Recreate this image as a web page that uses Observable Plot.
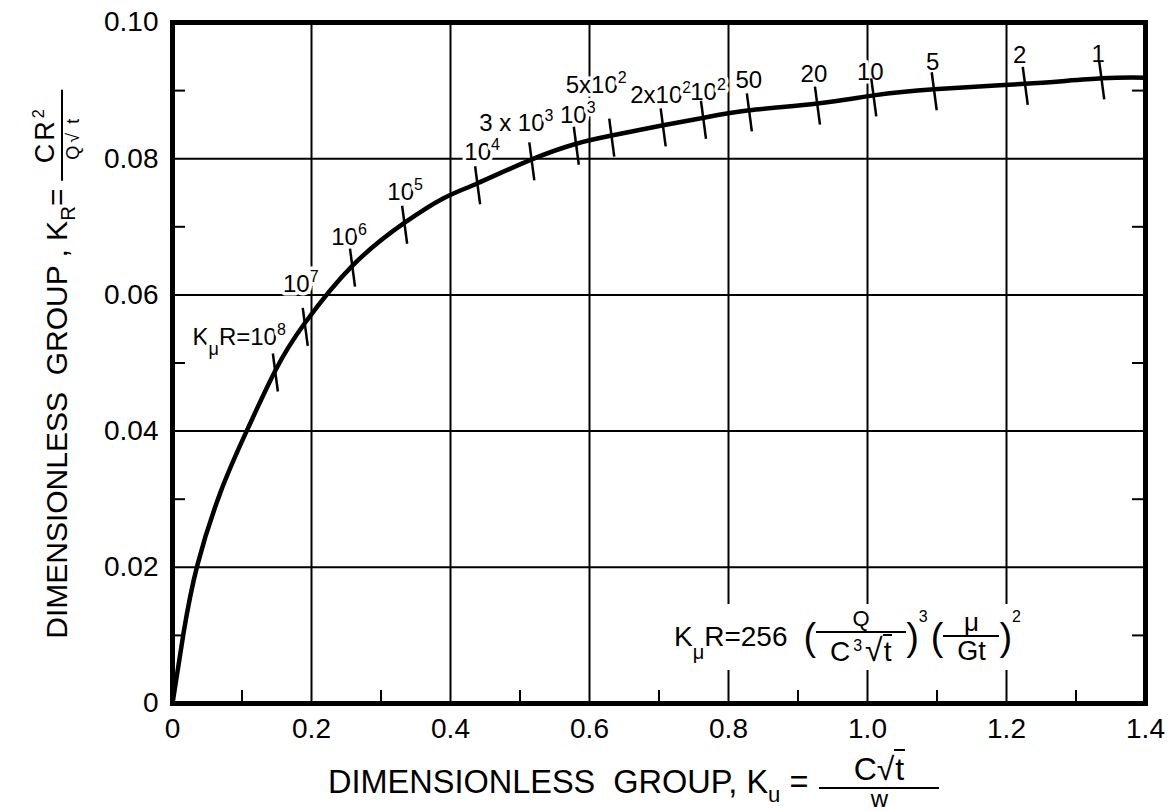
<!DOCTYPE html>
<html><head><meta charset="utf-8">
<script src="https://cdn.jsdelivr.net/npm/d3@7"></script>
<script src="https://cdn.jsdelivr.net/npm/@observablehq/plot@0.6"></script>
<style>
body{margin:0;background:#fff}
#wrap{position:relative;width:1171px;height:811px;font-family:'Liberation Sans',Arial,sans-serif;color:#000;overflow:hidden}
#wrap svg{position:absolute;left:0;top:0}
.ov{position:absolute;white-space:pre;line-height:1;display:flex;align-items:center}
.sub{font-size:0.68em;position:relative;top:0.4em}
.sup{font-size:0.6em;position:relative;top:-0.6em}
.frac{display:inline-flex;flex-direction:column;align-items:center;line-height:1}
.frac>.num{border-bottom:2.5px solid #000;text-align:center;align-self:stretch}
.frac>.den{text-align:center}
.ovl{border-top:2px solid #000;padding:0 1px}
.par{font-size:38px;line-height:1}
.psup{font-size:16px;position:relative;top:-20px}
</style></head><body><div id="wrap"></div>
<script>
// ---- data ----
const xTicks = [0, 0.2, 0.4, 0.6, 0.8, 1.0, 1.2, 1.4];
const yTicks = [0, 0.02, 0.04, 0.06, 0.08, 0.10];
const xGrid = [0.2, 0.4, 0.6, 0.8, 1.0, 1.2];
const yGrid = [0.02, 0.04, 0.06, 0.08];
const xMinor = [0.1, 0.3, 0.5, 0.7, 0.9, 1.1, 1.3];
const yMinor = [0.01, 0.03, 0.05, 0.07, 0.09];

// curve K_R vs K_u
const curveKu = [0, 0.0158, 0.036, 0.069, 0.104, 0.148, 0.190, 0.259, 0.334, 0.390, 0.439, 0.517, 0.581, 0.632, 0.706, 0.764, 0.830, 0.928, 1.009, 1.096, 1.227, 1.337, 1.400];
const curveKR = [0, 0.0103, 0.0204, 0.0310, 0.0394, 0.0489, 0.0558, 0.0643, 0.0706, 0.0742, 0.0764, 0.0799, 0.0822, 0.0834, 0.0849, 0.0860, 0.0871, 0.0881, 0.0893, 0.0902, 0.0910, 0.0918, 0.0919];

// K_muR marks along the curve
const markKu = [0.148, 0.191, 0.259, 0.334, 0.439, 0.517, 0.581, 0.632, 0.706, 0.764, 0.830, 0.928, 1.009, 1.096, 1.227, 1.337];
const markKR = [0.0489, 0.0556, 0.0643, 0.0706, 0.0764, 0.0799, 0.0822, 0.0834, 0.0849, 0.0860, 0.0871, 0.0881, 0.0893, 0.0902, 0.0910, 0.0918];
const markLabel = ["K_{μ}R=10^{8}", "10^{7}", "10^{6}", "10^{5}", "10^{4}", "3 x 10^{3}", "10^{3}", "5x10^{2}", "2x10^{2}", "10^{2}", "50", "20", "10", "5", "2", "1"];

// ---- layout ----
const W = 1171, H = 811, ML = 172, MR = 26, MT = 22, MB = 108;
const FONT = "'Liberation Sans', Arial, sans-serif";
const pxX = 1.4 / (W - ML - MR), pxY = 0.1 / (H - MT - MB);
// label placement relative to the mark, in pixels [dx, dy of baseline]
const labelShift = [[11,-25],[-4,-32],[-3,-20],[1,-22],[5,-23],[-15,-28],[2,-20],[-15,-42],[-2,-22],[5,-17],[0,-22],[-3,-21],[-3,-15],[-1,-19],[-5,-20],[-3,-16]];

const curveData = curveKu.map((u, i) => ({u, r: curveKR[i]}));
const markData = markKu.map((u, i) => ({u, r: markKR[i], label: markLabel[i]}));

function curveLabels(index, scales) {
  const g = d3.create("svg:g")
    .attr("font-family", FONT).attr("font-size", 24).attr("fill", "#000")
    .attr("stroke", "#fff").attr("stroke-width", 7).attr("stroke-linejoin", "round")
    .attr("paint-order", "stroke");
  markData.forEach((d, i) => {
    const [dx, dy] = labelShift[i];
    const t = g.append("text")
      .attr("x", scales.x(d.u) + dx)
      .attr("y", scales.y(d.r) + dy)
      .attr("text-anchor", i === 0 ? "end" : "middle");
    const re = /([_^])\{([^}]*)\}|([^_^]+)/g;
    let m, shift = 0;
    while ((m = re.exec(d.label))) {
      if (m[3]) {
        t.append("tspan").attr("dy", -shift).text(m[3]);
        shift = 0;
      } else if (m[1] === "^") {
        t.append("tspan").attr("dy", -10 - shift).attr("font-size", 16).text(m[2]);
        shift = -10;
      } else {
        t.append("tspan").attr("dy", 10 - shift).attr("font-size", 18).text(m[2]);
        shift = 10;
      }
    }
  });
  return g.node();
}

const fmtX = d => d === 0 ? "0" : d.toFixed(1);
const fmtY = d => d === 0 ? "0" : d.toFixed(2);

const chart = Plot.plot({
  width: W, height: H,
  marginLeft: ML, marginRight: MR, marginTop: MT, marginBottom: MB,
  x: {domain: [0, 1.4]},
  y: {domain: [0, 0.1]},
  style: {fontFamily: FONT, fontSize: "28px", color: "#000", background: "#fff", overflow: "visible"},
  marks: [
    Plot.ruleX(xGrid, {stroke: "#000", strokeWidth: 2}),
    Plot.ruleY(yGrid, {stroke: "#000", strokeWidth: 2}),
    Plot.ruleX(xMinor, {y1: 0, y2: 13 * pxY, stroke: "#000", strokeWidth: 2}),
    Plot.ruleY(yMinor, {x1: 0, x2: 13 * pxX, stroke: "#000", strokeWidth: 2}),
    Plot.ruleY(yMinor, {x1: 1.4 - 13 * pxX, x2: 1.4, stroke: "#000", strokeWidth: 2}),
    curveLabels,
    Plot.line(curveData, {x: "u", y: "r", curve: "natural", stroke: "#000", strokeWidth: 4.5}),
    Plot.link(markData, {
      x1: d => d.u - 2.5 * pxX, y1: d => d.r + 17 * pxY,
      x2: d => d.u + 2.5 * pxX, y2: d => d.r - 21 * pxY,
      stroke: "#000", strokeWidth: 2.5
    }),
    Plot.frame({stroke: "#000", strokeWidth: 5}),
    Plot.axisX({ticks: xTicks, tickSize: 0, tickPadding: 15, tickFormat: fmtX, label: null, fontSize: 28}),
    Plot.axisY({ticks: yTicks, tickSize: 0, tickPadding: 14, tickFormat: fmtY, label: null, fontSize: 28})
  ]
});

const wrap = document.getElementById("wrap");
wrap.appendChild(chart);

const xlab = document.createElement("div");
xlab.className = "ov";
xlab.style.cssText = "left:328px;top:753px;font-size:32.5px";
xlab.innerHTML = '<span>DIMENSIONLESS  GROUP, K<span class="sub">u</span> = </span>' +
  '<span class="frac" style="width:120px;margin-left:2px">' +
  '<span class="num" style="font-size:32px;padding-bottom:2px">C√<span class="ovl">t</span></span>' +
  '<span class="den" style="font-size:24px;margin-top:-2px">w</span></span>';
wrap.appendChild(xlab);

const ylab = document.createElement("div");
ylab.className = "ov";
ylab.style.cssText = "left:57px;top:364px;font-size:30px;transform:translate(-50%,-50%) rotate(-90deg)";
ylab.innerHTML = '<span>DIMENSIONLESS  GROUP , K<span class="sub">R</span>= </span>' +
  '<span class="frac" style="width:91px">' +
  '<span class="num" style="font-size:27px;letter-spacing:3px;padding-bottom:2px">CR<span class="sup">2</span></span>' +
  '<span class="den" style="font-size:18px;letter-spacing:3px;padding-top:1px">Q√<span class="ovl" style="padding:0 6px">t</span></span></span>';
wrap.appendChild(ylab);

const formula = document.createElement("div");
formula.className = "ov";
formula.style.cssText = "left:668px;top:604px;height:66px;background:#fff;padding:0 8px 0 6px";
formula.innerHTML = '<span style="font-size:28px">K<span style="font-size:20px;position:relative;top:13px">μ</span>R=256</span>' +
  '<span class="par" style="margin-left:16px">(</span>' +
  '<span class="frac" style="width:90px"><span class="num" style="font-size:22px;padding-bottom:1px">Q</span>' +
  '<span class="den" style="font-size:28px;padding-top:1px">C<span style="font-size:16px;position:relative;top:-10px;margin:0 3px">3</span><span style="font-size:32px">√</span><span class="ovl">t</span></span></span>' +
  '<span class="par">)</span><span class="psup">3</span>' +
  '<span class="par" style="margin-left:3px">(</span>' +
  '<span class="frac" style="width:56px"><span class="num" style="font-size:26px">μ</span>' +
  '<span class="den" style="font-size:27px;padding-top:1px">Gt</span></span>' +
  '<span class="par">)</span><span class="psup">2</span>';
wrap.appendChild(formula);
</script></body></html>
